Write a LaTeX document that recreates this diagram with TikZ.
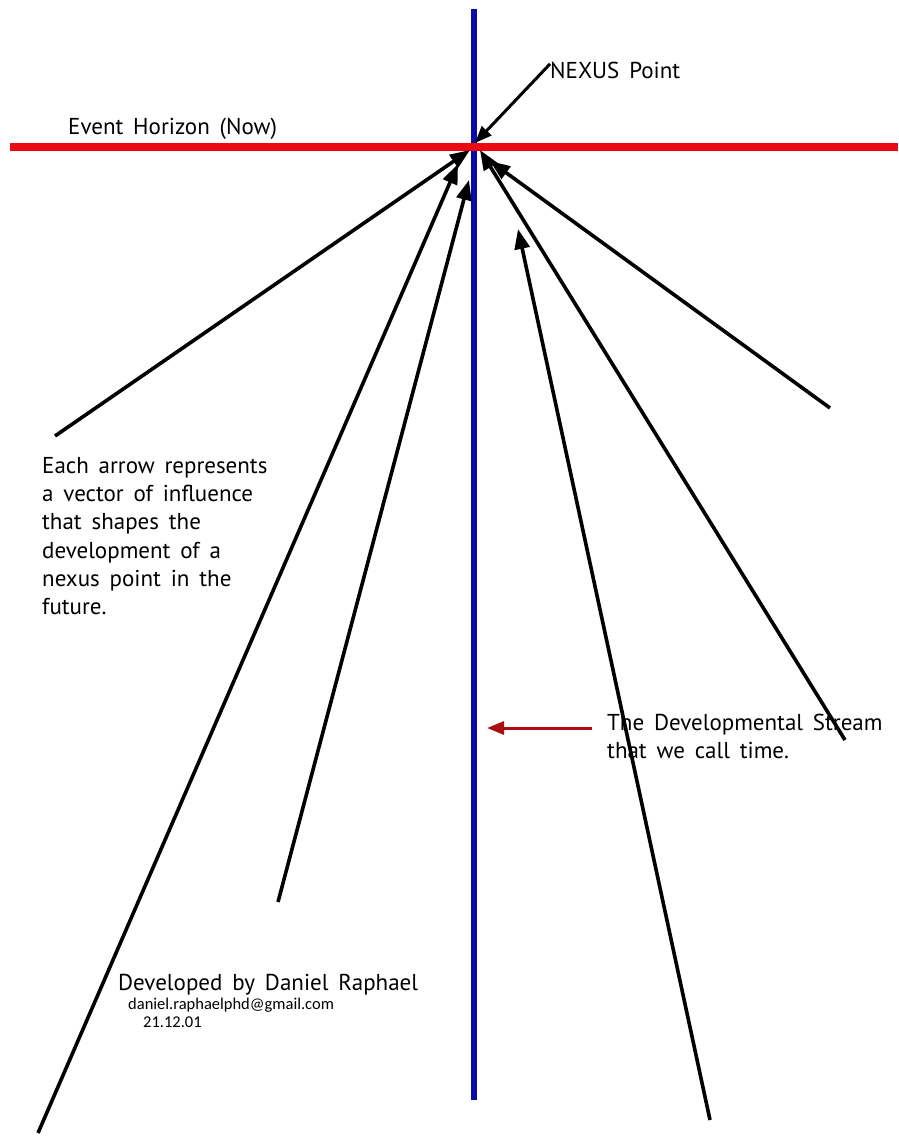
\documentclass[tikz,border=0pt]{standalone}
\usepackage{fontspec}
\usetikzlibrary{arrows.meta}
\newfontfamily\labfont[WordSpace=1.6]{PT Sans}
\newfontfamily\smallfont{Carlito}
\definecolor{streamblue}{RGB}{10,10,170}
\definecolor{nowred}{RGB}{235,10,20}
\definecolor{darkred}{RGB}{170,15,20}
\tikzset{
  vec/.style={line width=3.6pt, draw=black, -{Triangle[length=20pt,width=15pt]}},
  lab/.style={inner sep=0pt, font=\labfont\fontsize{23}{28.3}\selectfont, align=left},
  small/.style={inner sep=0pt, font=\smallfont\fontsize{16.5}{19}\selectfont, align=left}
}
\begin{document}
\begin{tikzpicture}[x=1pt,y=-1pt]
\useasboundingbox[fill=white] (0,0) rectangle (898,1140);
% stream and horizon
\coordinate (bTop) at (474,9);
\coordinate (bBot) at (474,1100);
\coordinate (rL) at (10,147);
\coordinate (rR) at (898,147);
\draw[streamblue, line width=6.5pt] (bTop) -- (bBot);
\draw[nowred, line width=7.5pt] (rL) -- (rR);
% vectors of influence
\coordinate (t1) at (55,436);   \coordinate (h1) at (470,150);
\coordinate (t2) at (38,1133);  \coordinate (h2) at (458,164);
\coordinate (t3) at (278,902);  \coordinate (h3) at (469,180);
\coordinate (t4) at (710,1120); \coordinate (h4) at (518,229);
\coordinate (t5) at (845,740);  \coordinate (h5) at (480,150);
\coordinate (t6) at (830,408);  \coordinate (h6) at (490,161);
\foreach \i in {1,...,6} { \draw[vec] (t\i) -- (h\i); }
% labels
\node[lab, anchor=base west] (nexus) at (550,78) {NEXUS Point};
\coordinate (nexusTip) at (475,143);
\draw[vec, line width=3pt, -{Triangle[length=17pt,width=13pt]}] (nexus.west) ++(0,-6) coordinate (nexusTail) -- (nexusTip);
\node[lab, anchor=base west] (horizon) at (68,134) {Event Horizon (Now)};
\node[lab, anchor=north west] (desc) at (42,457) {Each arrow represents\\a vector of influence\\that shapes the\\development of a\\nexus point in the\\future.};
\node[lab, anchor=north west] (stream) at (607,714) {The Developmental Stream\\that we call time.};
\coordinate (sTail) at (592,728);
\coordinate (sTip) at (487,728);
\draw[darkred, line width=3pt, -{Triangle[length=17pt,width=13pt]}] (sTail) -- (sTip);
\node[lab, anchor=base west] (author) at (118,990) {Developed by Daniel Raphael};
\node[small, anchor=base west] (email) at (128,1009) {daniel.raphaelphd@gmail.com};
\node[small, anchor=base west] (date) at (143,1027) {21.12.01};
\end{tikzpicture}
\end{document}
